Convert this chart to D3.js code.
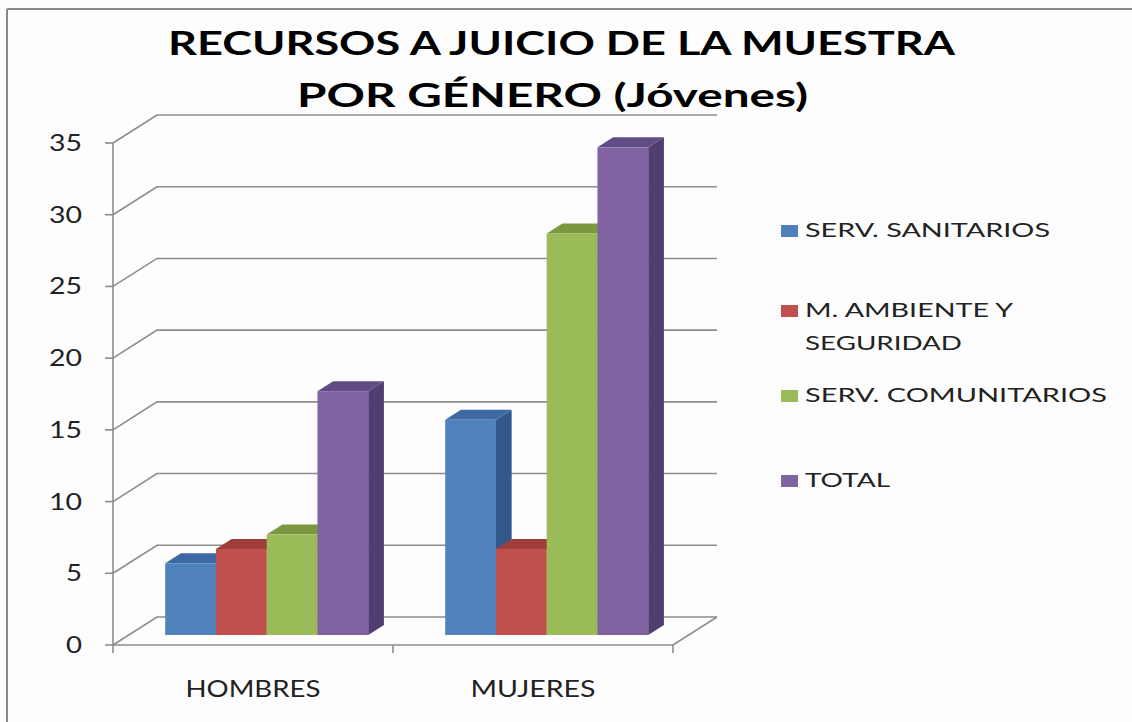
<!DOCTYPE html>
<html><head><meta charset="utf-8">
<script src="https://cdn.jsdelivr.net/npm/d3@7"></script>
<style>
html,body{margin:0;padding:0;background:#fdfdfd;}
svg{display:block;}
text{font-family:Lato,"Open Sans",sans-serif;}
</style></head>
<body>
<svg id="chart" width="1132" height="722"></svg>
<script>
// ---- data ----
const categories = ["HOMBRES", "MUJERES"];
const seriesNames = ["SERV. SANITARIOS", "M. AMBIENTE Y SEGURIDAD", "SERV. COMUNITARIOS", "TOTAL"];
const servSanitarios = [5, 15];
const mAmbienteSeguridad = [6, 6];
const servComunitarios = [7, 28];
const total = [17, 34];
const yTickValues = [0, 5, 10, 15, 20, 25, 30, 35];
const legendLines = [["SERV. SANITARIOS"], ["M. AMBIENTE Y", "SEGURIDAD"], ["SERV. COMUNITARIOS"], ["TOTAL"]];
const titleLines = ["RECURSOS A JUICIO DE LA MUESTRA", "POR GÉNERO (Jóvenes)"];

const seriesValues = [servSanitarios, mAmbienteSeguridad, servComunitarios, total];

// ---- styles ----
const frontColors = ["#4f81bd", "#c0504d", "#9bbb59", "#8064a2"];
const topColors   = ["#3d6aa2", "#a03e3b", "#7c983f", "#624c85"];
const sideColors  = ["#33598a", "#8a3331", "#6a8436", "#513e70"];
const gridColor = "#8c8c8c";

const svg = d3.select("#chart");
svg.append("rect").attr("width",1132).attr("height",722).attr("fill","#fdfdfd");

// frame
svg.append("line").attr("x1",7).attr("x2",1132).attr("y1",9).attr("y2",9).attr("stroke","#8a8a8a").attr("stroke-width",2);
svg.append("line").attr("x1",7).attr("x2",7).attr("y1",9).attr("y2",722).attr("stroke","#8a8a8a").attr("stroke-width",2);

// ---- scales ----
const y = d3.scaleLinear().domain([0, 35]).range([645, 143]);
const x = d3.scaleBand().domain(categories).range([113, 673]).paddingInner(0).paddingOuter(0);
const groupFrac = 0.725;
const xs = d3.scaleBand().domain(seriesNames)
  .range([x.bandwidth() * (1 - groupFrac) / 2 - 2, x.bandwidth() * (1 + groupFrac) / 2 - 2]);

const DX = 44, DY = 28;          // full depth projection
const z0 = 0.357, z1 = 0.714;    // bar depth span

const proj = (px, v, z) => [px + z * DX, y(v) - z * DY];

// ---- gridlines (back wall + left wall diagonals) ----
const grid = svg.append("g");
yTickValues.forEach(v => {
  const p = [[113, y(v)], proj(113, v, 1), proj(673, v, 1)];
  grid.append("path").attr("d", d3.line()(p)).attr("fill","none").attr("stroke",gridColor).attr("stroke-width",1.6);
});
grid.append("path").attr("d", d3.line()([[113, y(0)], [673, y(0)], proj(673, 0, 1)]))
  .attr("fill","none").attr("stroke",gridColor).attr("stroke-width",1.6);
grid.append("line").attr("x1",113).attr("x2",113).attr("y1",y(35)).attr("y2",y(0)).attr("stroke",gridColor).attr("stroke-width",1.6);
yTickValues.forEach(v => {
  grid.append("line").attr("x1",105).attr("x2",113).attr("y1",y(v)).attr("y2",y(v)).attr("stroke",gridColor).attr("stroke-width",1.6);
});
const boundaries = categories.map(c => x(c)).concat([x(categories[categories.length-1]) + x.bandwidth()]);
boundaries.forEach(bx => {
  grid.append("line").attr("x1",bx).attr("x2",bx).attr("y1",y(0)).attr("y2",y(0)+8).attr("stroke",gridColor).attr("stroke-width",1.6);
});

// ---- title ----
const titleW = [787, 511];
const titleY = [55, 107];
titleLines.forEach((t, i) => {
  svg.append("text").attr("x", i === 0 ? 168 : 297).attr("y", titleY[i])
    .attr("font-size", 33).attr("font-weight", 700).attr("fill", "#000")
    .attr("textLength", titleW[i]).attr("lengthAdjust", "spacingAndGlyphs").text(t);
});

// ---- bars ----
const bars = svg.append("g");
categories.forEach((c, ci) => {
  seriesNames.forEach((s, si) => {
    const v = seriesValues[si][ci];
    const xl = x(c) + xs(s), xr = xl + xs.bandwidth();
    const g = bars.append("g");
    g.append("path").attr("d", d3.line()([proj(xr,0,z0), proj(xr,0,z1), proj(xr,v,z1), proj(xr,v,z0)]) + "Z")
      .attr("fill", sideColors[si]);
    g.append("path").attr("d", d3.line()([proj(xl,v,z0), proj(xr,v,z0), proj(xr,v,z1), proj(xl,v,z1)]) + "Z")
      .attr("fill", topColors[si]);
    const a = proj(xl, v, z0), b = proj(xr, 0, z0);
    g.append("rect").attr("x", a[0]).attr("y", a[1]).attr("width", b[0]-a[0]).attr("height", b[1]-a[1])
      .attr("fill", frontColors[si]);
  });
});

// ---- axis labels ----
yTickValues.forEach(v => {
  svg.append("text").attr("x", 82).attr("y", y(v) + 8).attr("text-anchor","end")
    .attr("font-size", 23).attr("fill","#222")
    .attr("textLength", String(v).length === 2 ? 33 : 16).attr("lengthAdjust","spacingAndGlyphs")
    .text(v);
});
const catW = [135, 125];
categories.forEach((c, i) => {
  svg.append("text").attr("x", x(c) + x.bandwidth()/2 - catW[i]/2).attr("y", 697)
    .attr("font-size", 24).attr("fill","#222")
    .attr("textLength", catW[i]).attr("lengthAdjust","spacingAndGlyphs").text(c);
});

// ---- legend ----
const legendSquareY = [225, 305, 390, 475];
const legendTextW = [[245], [208, 157], [302], [85]];
const lg = svg.append("g");
seriesNames.forEach((s, i) => {
  lg.append("rect").attr("x", 781).attr("y", legendSquareY[i]).attr("width", 17).attr("height", 12).attr("fill", frontColors[i]);
  legendLines[i].forEach((ln, j) => {
    lg.append("text").attr("x", 805).attr("y", legendSquareY[i] + 12 + j * 33)
      .attr("font-size", 20).attr("fill","#222")
      .attr("textLength", legendTextW[i][j]).attr("lengthAdjust","spacingAndGlyphs").text(ln);
  });
});
</script>
</body></html>
